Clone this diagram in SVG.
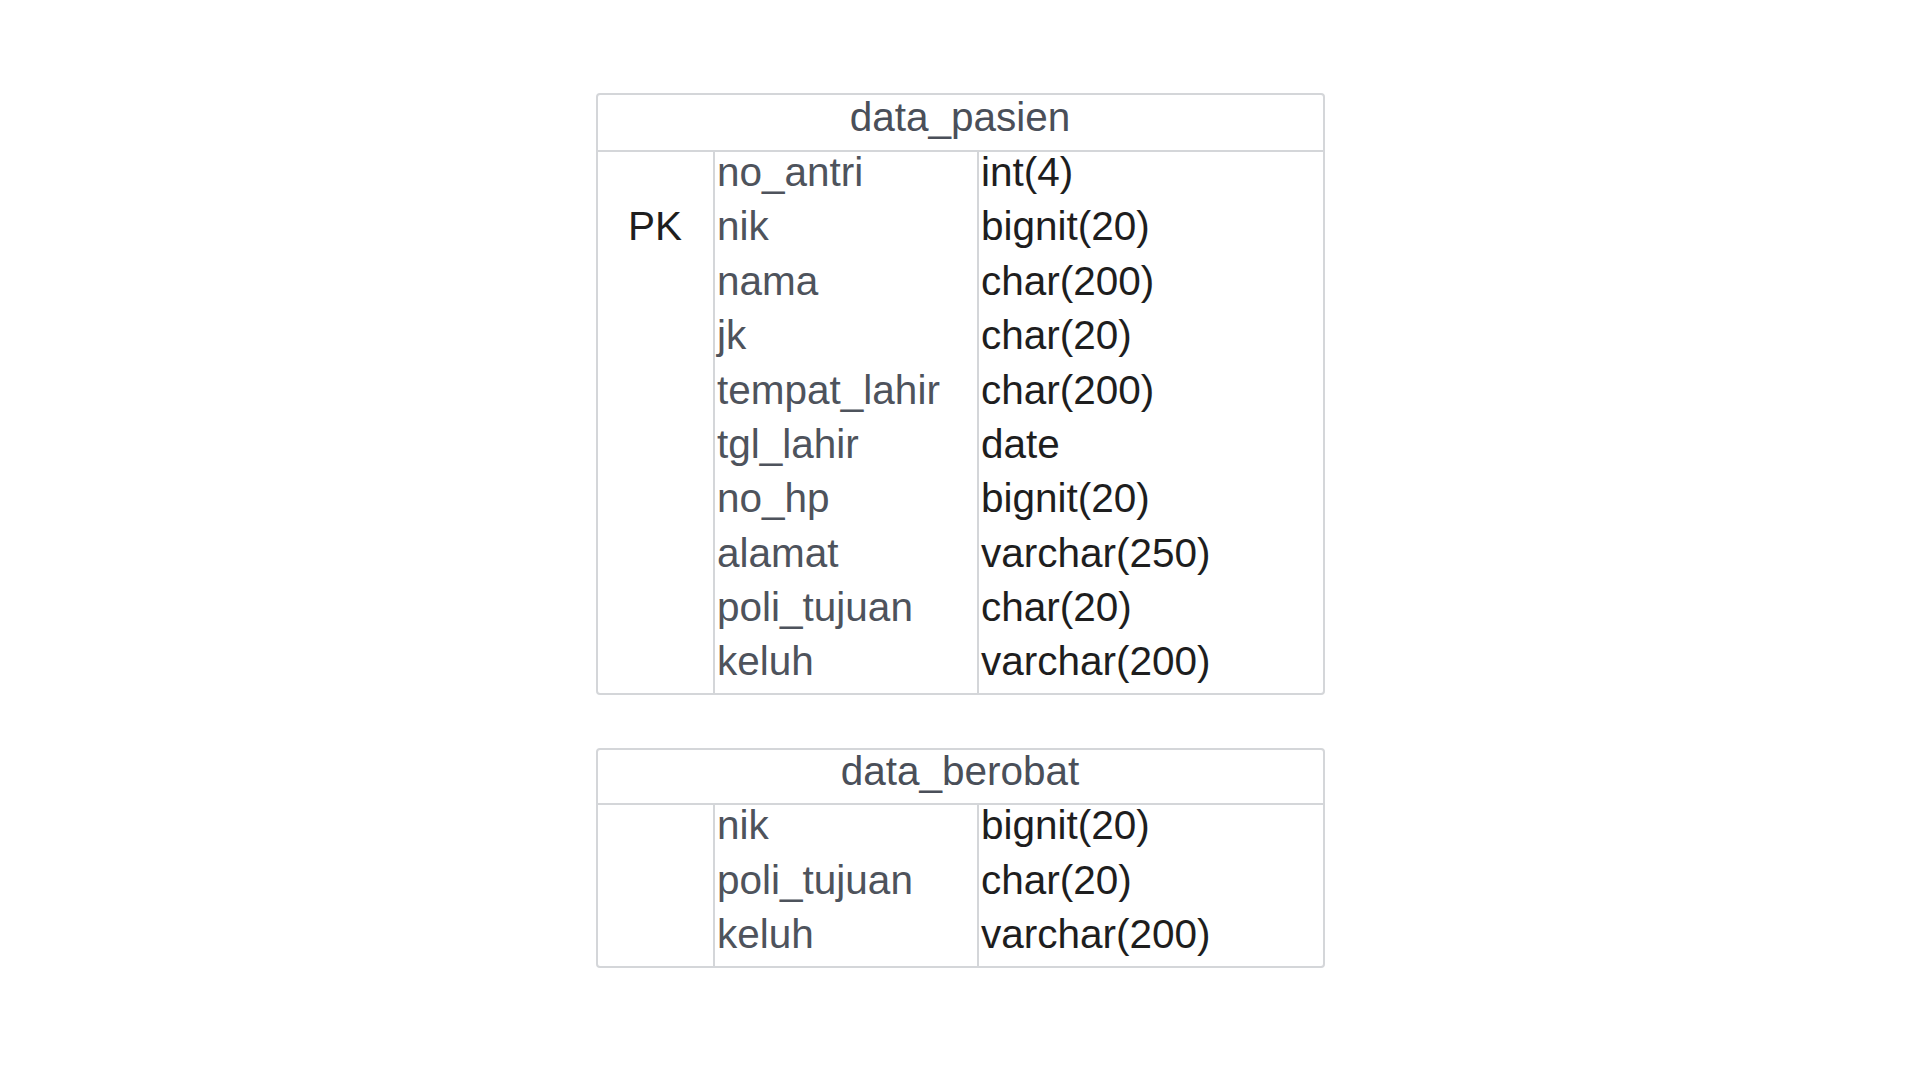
<svg xmlns="http://www.w3.org/2000/svg" width="1920" height="1080" viewBox="0 0 1920 1080">
<style>
.box{fill:#ffffff;stroke:#d4d6d9;stroke-width:2}
.ln{stroke:#d4d6d9;stroke-width:2;fill:none}
.hd{font-family:"Liberation Sans",Arial,sans-serif;font-size:40.5px;fill:#4a4f59;text-anchor:middle}
.fn{font-family:"Liberation Sans",Arial,sans-serif;font-size:40.5px;fill:#4e535c}
.ty{font-family:"Liberation Sans",Arial,sans-serif;font-size:40.5px;fill:#1e1e1e}
.pk{font-family:"Liberation Sans",Arial,sans-serif;font-size:40.5px;fill:#1e1e1e;text-anchor:middle}
</style>
<rect width="1920" height="1080" fill="#ffffff"/>
<g id="data_pasien">
<rect class="box" x="597" y="94" width="727" height="600" rx="3"/>
<line class="ln" x1="597" y1="151" x2="1324" y2="151"/>
<line class="ln" x1="714" y1="151" x2="714" y2="694"/>
<line class="ln" x1="978" y1="151" x2="978" y2="694"/>
<text class="hd" x="960" y="131">data_pasien</text>
<text class="pk" x="655" y="240">PK</text>
<text class="fn" x="717" y="186">no_antri</text>
<text class="fn" x="717" y="240">nik</text>
<text class="fn" x="717" y="295">nama</text>
<text class="fn" x="717" y="349">jk</text>
<text class="fn" x="717" y="404">tempat_lahir</text>
<text class="fn" x="717" y="458">tgl_lahir</text>
<text class="fn" x="717" y="512">no_hp</text>
<text class="fn" x="717" y="567">alamat</text>
<text class="fn" x="717" y="621">poli_tujuan</text>
<text class="fn" x="717" y="675">keluh</text>
<text class="ty" x="981" y="186">int(4)</text>
<text class="ty" x="981" y="240">bignit(20)</text>
<text class="ty" x="981" y="295">char(200)</text>
<text class="ty" x="981" y="349">char(20)</text>
<text class="ty" x="981" y="404">char(200)</text>
<text class="ty" x="981" y="458">date</text>
<text class="ty" x="981" y="512">bignit(20)</text>
<text class="ty" x="981" y="567">varchar(250)</text>
<text class="ty" x="981" y="621">char(20)</text>
<text class="ty" x="981" y="675">varchar(200)</text>
</g>
<g id="data_berobat">
<rect class="box" x="597" y="749" width="727" height="218" rx="3"/>
<line class="ln" x1="597" y1="804" x2="1324" y2="804"/>
<line class="ln" x1="714" y1="804" x2="714" y2="967"/>
<line class="ln" x1="978" y1="804" x2="978" y2="967"/>
<text class="hd" x="960" y="785">data_berobat</text>
<text class="fn" x="717" y="839">nik</text>
<text class="fn" x="717" y="894">poli_tujuan</text>
<text class="fn" x="717" y="948">keluh</text>
<text class="ty" x="981" y="839">bignit(20)</text>
<text class="ty" x="981" y="894">char(20)</text>
<text class="ty" x="981" y="948">varchar(200)</text>
</g>
<g id="connectors"></g>
</svg>
